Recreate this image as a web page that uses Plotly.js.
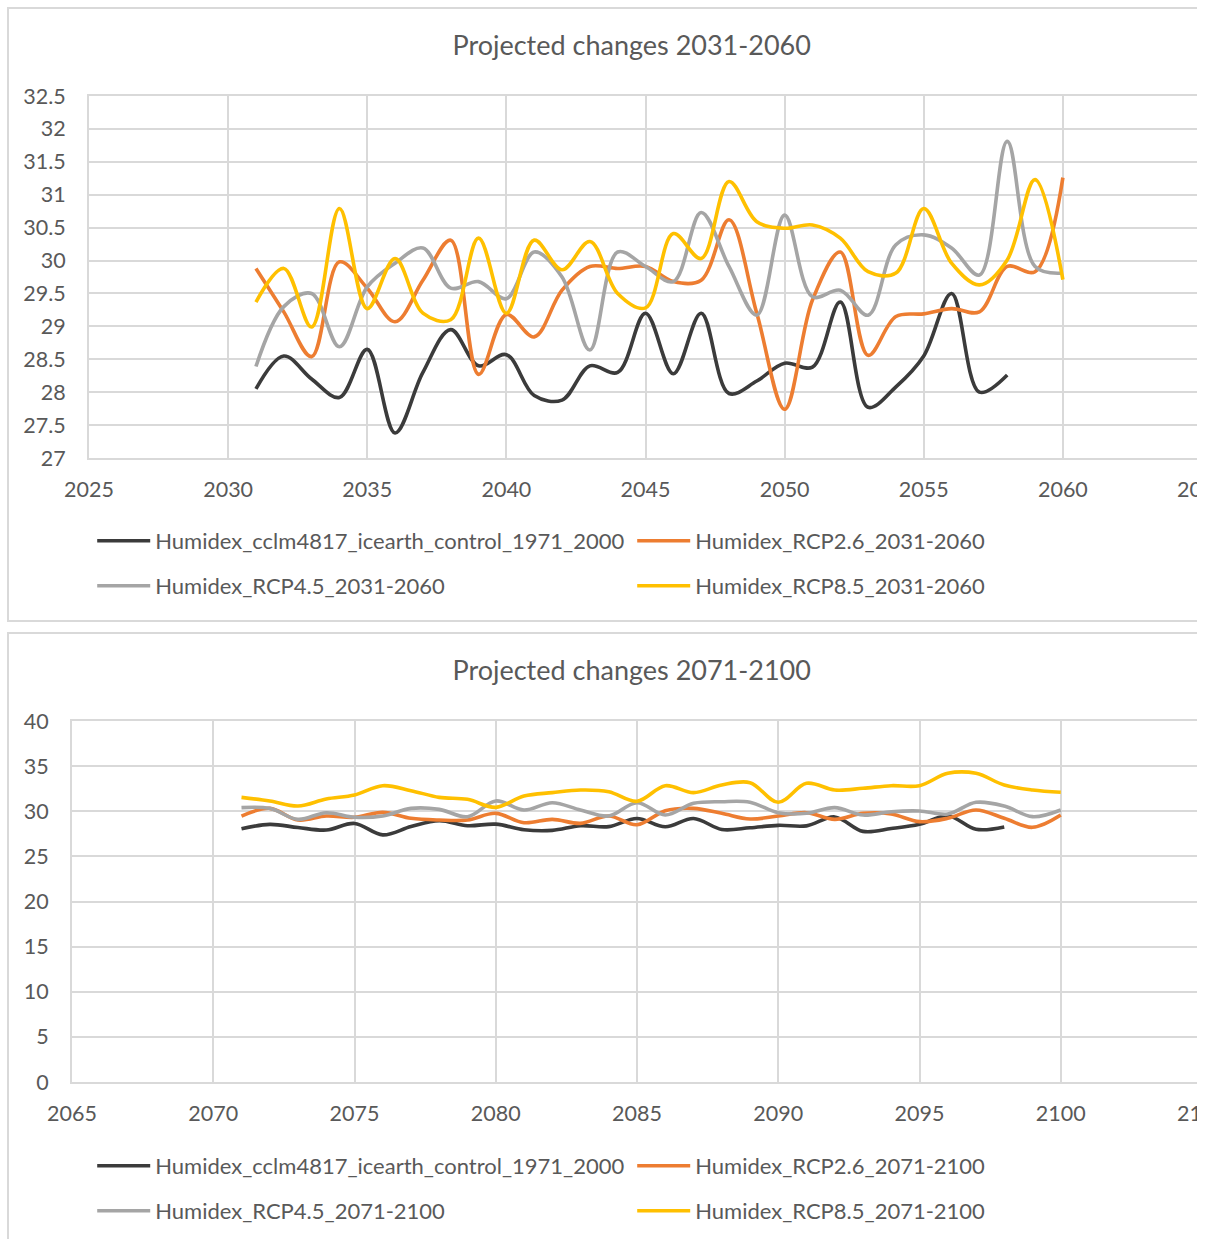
<!DOCTYPE html>
<html><head><meta charset="utf-8">
<script src="https://cdn.plot.ly/plotly-3.0.1.min.js"></script>
<style>
html,body{margin:0;padding:0;background:#fff;width:1208px;height:1239px;overflow:hidden;}
#clip{position:absolute;left:0;top:0;width:1197px;height:1239px;overflow:hidden;}
.box{position:absolute;left:7px;width:1300px;height:611px;border:2px solid #d9d9d9;background:#fff;}
#box1{top:7px;}
#box2{top:632px;}
.chart{width:1300px;height:611px;}
</style></head><body>
<div id="clip">
<div class="box" id="box1"><div class="chart" id="c1"></div></div>
<div class="box" id="box2"><div class="chart" id="c2"></div></div>
</div>
<script>
// ---- data ----
const yearsControlA = [2031,2032,2033,2034,2035,2036,2037,2038,2039,2040,2041,2042,2043,2044,2045,2046,2047,2048,2049,2050,2051,2052,2053,2054,2055,2056,2057,2058];
const yearsA = [2031,2032,2033,2034,2035,2036,2037,2038,2039,2040,2041,2042,2043,2044,2045,2046,2047,2048,2049,2050,2051,2052,2053,2054,2055,2056,2057,2058,2059,2060];
const yearsControlB = [2071,2072,2073,2074,2075,2076,2077,2078,2079,2080,2081,2082,2083,2084,2085,2086,2087,2088,2089,2090,2091,2092,2093,2094,2095,2096,2097,2098];
const yearsB = [2071,2072,2073,2074,2075,2076,2077,2078,2079,2080,2081,2082,2083,2084,2085,2086,2087,2088,2089,2090,2091,2092,2093,2094,2095,2096,2097,2098,2099,2100];

const control = [28.05,28.55,28.2,27.92,28.65,27.38,28.3,28.95,28.4,28.57,27.95,27.88,28.4,28.3,29.2,28.28,29.2,27.98,28.17,28.44,28.38,29.37,27.77,28.08,28.55,29.5,28.0,28.26];

const rcp26A = [29.88,29.22,28.54,29.98,29.58,29.07,29.7,30.31,28.27,29.18,28.84,29.55,29.91,29.88,29.91,29.68,29.7,30.62,29.2,27.74,29.4,30.13,28.56,29.15,29.19,29.27,29.22,29.91,29.83,31.26];
const rcp45A = [28.39,29.3,29.5,28.69,29.6,29.96,30.19,29.58,29.68,29.42,30.13,29.75,28.64,30.13,29.91,29.68,30.73,29.91,29.17,30.69,29.45,29.55,29.17,30.24,30.39,30.19,29.78,31.81,29.91,29.81];
const rcp85A = [29.37,29.88,28.99,30.79,29.27,30.03,29.2,29.1,30.34,29.2,30.31,29.86,30.29,29.5,29.28,30.41,30.03,31.2,30.59,30.49,30.54,30.34,29.83,29.81,30.79,29.96,29.63,30.01,31.23,29.71];

const rcp26B = [29.47,30.32,29.03,29.47,29.33,29.88,29.22,29.03,29.03,29.77,28.73,29.1,28.66,29.47,28.5,30.06,30.32,29.77,29.14,29.47,29.84,29.1,29.77,29.7,28.85,29.22,30.14,29.22,28.22,29.58];
const rcp45B = [30.4,30.32,29.1,29.84,29.33,29.47,30.32,30.21,29.4,31.14,30.14,30.95,30.14,29.47,30.95,29.58,30.88,31.06,31.0,29.84,29.77,30.4,29.58,29.95,30.03,29.7,30.99,30.58,29.4,30.14];
const rcp85B = [31.54,31.14,30.58,31.36,31.8,32.83,32.28,31.54,31.32,30.43,31.69,32.06,32.35,32.17,31.1,32.83,32.06,32.91,33.17,30.99,33.1,32.35,32.54,32.83,32.83,34.2,34.2,32.91,32.35,32.1];

const namesA = ["Humidex_cclm4817_icearth_control_1971_2000","Humidex_RCP2.6_2031-2060","Humidex_RCP4.5_2031-2060","Humidex_RCP8.5_2031-2060"];
const namesB = ["Humidex_cclm4817_icearth_control_1971_2000","Humidex_RCP2.6_2071-2100","Humidex_RCP4.5_2071-2100","Humidex_RCP8.5_2071-2100"];
const colors = ["#3b3b3b","#ED7D31","#A5A5A5","#FFC000"];

// ---- styling ----
const FONT = "Lato, 'Open Sans', sans-serif";
const TXT = "#595959";
const GRID = "#d9d9d9";

function trace(x, y, name, color, legend) {
  return {x: x, y: y, name: name, type: 'scatter', mode: 'lines',
    line: {color: color, width: 3.6, shape: 'spline', smoothing: 1},
    legend: legend, hoverinfo: 'skip'};
}

function makeLayout(title, xr, yr, dy, ml) {
  const leg = (yc) => ({orientation: 'h', xref: 'container', yref: 'container',
    x: 0.064, xanchor: 'left', y: yc, yanchor: 'middle',
    entrywidth: 472, entrywidthmode: 'pixels', itemwidth: 53,
    font: {family: FONT, size: 22, color: TXT}, bgcolor: 'rgba(0,0,0,0)', traceorder: 'normal'});
  return {
    width: 1300, height: 611,
    margin: {l: ml, r: 107, t: 87, b: 162, pad: 0},
    paper_bgcolor: '#fff', plot_bgcolor: '#fff',
    font: {family: FONT, size: 21.5, color: TXT},
    title: {text: title, font: {family: FONT, size: 27, color: TXT},
      xref: 'container', x: 0.479, xanchor: 'center', yref: 'container', y: 1 - 37/611, yanchor: 'middle'},
    xaxis: {range: xr, dtick: 5, tick0: 2025, showgrid: true, gridcolor: GRID, gridwidth: 2,
      showline: true, linecolor: GRID, linewidth: 2, mirror: true, zeroline: false,
      ticks: 'outside', ticklen: 11, tickcolor: 'rgba(0,0,0,0)',
      tickfont: {family: FONT, size: 21.5, color: TXT}, fixedrange: true},
    yaxis: {range: yr, dtick: dy, showgrid: true, gridcolor: GRID, gridwidth: 2,
      showline: true, linecolor: GRID, linewidth: 2, mirror: true, zeroline: false,
      ticks: 'outside', ticklen: 17, tickcolor: 'rgba(0,0,0,0)',
      tickfont: {family: FONT, size: 21.5, color: TXT}, fixedrange: true},
    showlegend: true,
    legend: leg(1 - 532/611),
    legend2: leg(1 - 577/611)
  };
}

const dataA = [
  trace(yearsControlA, control, namesA[0], colors[0], 'legend'),
  trace(yearsA, rcp26A, namesA[1], colors[1], 'legend'),
  trace(yearsA, rcp45A, namesA[2], colors[2], 'legend2'),
  trace(yearsA, rcp85A, namesA[3], colors[3], 'legend2')
];
const dataB = [
  trace(yearsControlB, control, namesB[0], colors[0], 'legend'),
  trace(yearsB, rcp26B, namesB[1], colors[1], 'legend'),
  trace(yearsB, rcp45B, namesB[2], colors[2], 'legend2'),
  trace(yearsB, rcp85B, namesB[3], colors[3], 'legend2')
];

const layoutA = makeLayout("Projected changes 2031-2060", [2025, 2065], [27, 32.5], 0.5, 80);
const layoutB = makeLayout("Projected changes 2071-2100", [2065, 2105], [0, 40], 5, 63);
layoutB.xaxis.tick0 = 2065;
layoutB.margin.b = 163;

Plotly.newPlot('c1', dataA, layoutA, {displayModeBar: false, staticPlot: true});
Plotly.newPlot('c2', dataB, layoutB, {displayModeBar: false, staticPlot: true});
</script>
</body></html>
